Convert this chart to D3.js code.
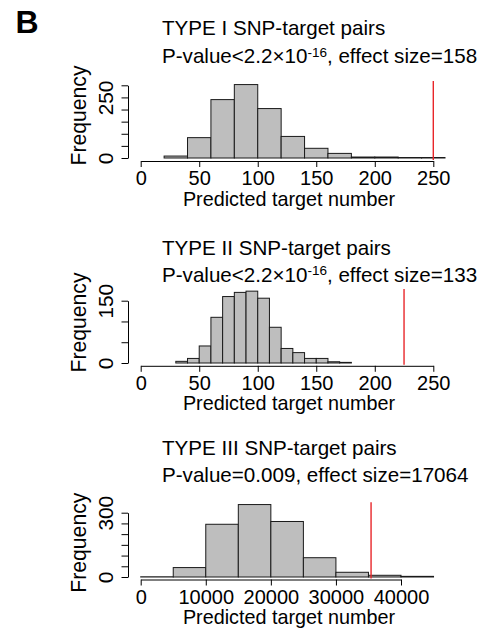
<!DOCTYPE html>
<html>
<head>
<meta charset="utf-8">
<script src="https://cdn.jsdelivr.net/npm/d3@7"></script>
<style>
  body { margin: 0; background: #fff; }
  svg { display: block; }
</style>
</head>
<body>
<div id="chart"></div>
<script>
// Histogram counts
const type1Breaks = [20, 40, 60, 80, 100, 120, 140, 160, 180, 200, 220, 240, 260];
const type1Counts = [8, 84, 241, 303, 204, 89, 40, 19, 4, 4, 2, 2];

const type2Breaks = [30, 40, 50, 60, 70, 80, 90, 100, 110, 120, 130, 140, 150, 160, 170, 180];
const type2Counts = [4, 11, 41, 110, 160, 170, 173, 156, 86, 35, 25, 11, 11, 3, 1.5];

const type3Breaks = [0, 5000, 10000, 15000, 20000, 25000, 30000, 35000, 40000, 45000];
const type3Counts = [1, 44, 246, 338, 259, 90, 22, 8, 3];

// observed value (red line)
const observed = [250, 225, 35400];

const titles = ["TYPE I SNP-target pairs", "TYPE II SNP-target pairs", "TYPE III SNP-target pairs"];
const statMain = ["P-value<2.2×10", "P-value<2.2×10", "P-value=0.009, effect size=17064"];
const statSup = ["-16", "-16", ""];
const statRest = [", effect size=158", ", effect size=133", ""];

const xTicks = [[0, 50, 100, 150, 200, 250], [0, 50, 100, 150, 200, 250], [0, 10000, 20000, 30000, 40000]];
const yTicks = [[0, 50, 100, 150, 200, 250, 300], [0, 50, 100, 150], [0, 50, 100, 150, 200, 250, 300]];
const yLabels = [[0, 250], [0, 150], [0, 300]];

const width = 486, height = 637;
const font = "'Liberation Sans', Arial, Helvetica, sans-serif";
const fs = 19.8;      // axis text
const fsTitle = 20.6; // panel titles

// layout of each panel (pixels)
const layout = [
  {titleY: 35, statY: 63.3, plotTop: 81, zeroY: 158, yTop: 85.3, axisY: 161, freqY: 115.5, xr: [140.7, 433.3]},
  {titleY: 255, statY: 281.7, plotTop: 289, zeroY: 363, yTop: 300.7, axisY: 365.8, freqY: 322.5, xr: [140.7, 433.3]},
  {titleY: 455, statY: 481.7, plotTop: 502.3, zeroY: 577, yTop: 512.7, axisY: 579.5, freqY: 542.7, xr: [140.7, 401]}
];
const yAxisX = 128;

const svg = d3.select("#chart").append("svg")
  .attr("width", width)
  .attr("height", height)
  .style("font-family", font);

svg.append("text")
  .attr("x", 15.5).attr("y", 33)
  .attr("font-size", 32).attr("font-weight", "bold")
  .text("B");

const series = [
  {breaks: type1Breaks, counts: type1Counts},
  {breaks: type2Breaks, counts: type2Counts},
  {breaks: type3Breaks, counts: type3Counts}
];

series.forEach((s, i) => {
  const L = layout[i];
  const xt = xTicks[i], yt = yTicks[i];
  const x = d3.scaleLinear().domain([xt[0], xt[xt.length - 1]]).range(L.xr);
  const y = d3.scaleLinear().domain([0, yt[yt.length - 1]]).range([L.zeroY, L.yTop]);
  const g = svg.append("g");

  // titles
  g.append("text").attr("x", 162).attr("y", L.titleY).attr("font-size", fsTitle).text(titles[i]);
  const st = g.append("text").attr("x", 162).attr("y", L.statY).attr("font-size", fsTitle);
  st.append("tspan").text(statMain[i]);
  if (statSup[i]) {
    st.append("tspan").attr("font-size", 13.5).attr("dy", -6.5).text(statSup[i]);
    st.append("tspan").attr("dy", 6.5).text(statRest[i]);
  }

  // bars
  const bins = s.counts.map((c, j) => ({x0: s.breaks[j], x1: s.breaks[j + 1], n: c}));
  g.append("g").selectAll("rect")
    .data(bins)
    .join("rect")
    .attr("x", d => x(d.x0))
    .attr("width", d => x(d.x1) - x(d.x0))
    .attr("y", d => y(d.n))
    .attr("height", d => L.zeroY - y(d.n))
    .attr("fill", "#bebebe")
    .attr("stroke", "#1a1a1a")
    .attr("stroke-width", 1);

  // red line for observed value
  g.append("line")
    .attr("x1", x(observed[i])).attr("x2", x(observed[i]))
    .attr("y1", L.plotTop).attr("y2", L.axisY - 1)
    .attr("stroke", "#e8262a").attr("stroke-width", 1.4);

  // x axis
  const xa = g.append("g")
    .attr("transform", `translate(0,${L.axisY})`)
    .call(d3.axisBottom(x).tickValues(xt).tickSizeInner(6).tickSizeOuter(0).tickPadding(3).tickFormat(d3.format("d")));
  xa.selectAll("text").attr("font-size", 20).attr("font-family", font).attr("fill", "#000").attr("dy", "0.75em");
  xa.selectAll("line, path").attr("stroke", "#000");

  // y axis
  const ya = g.append("g")
    .attr("transform", `translate(${yAxisX},0)`)
    .call(d3.axisLeft(y).tickValues(yt).tickSizeInner(6.5).tickSizeOuter(0)
      .tickFormat(d => yLabels[i].includes(d) ? d : ""));
  ya.selectAll("line, path").attr("stroke", "#000");
  ya.selectAll("text")
    .attr("font-size", 20.8).attr("font-family", font).attr("fill", "#000")
    .attr("text-anchor", "middle")
    .attr("x", 0).attr("dy", null)
    .attr("y", -15.3)
    .attr("transform", "rotate(-90)");

  // axis titles
  g.append("text")
    .attr("x", (140.7 + 433.3) / 2 + 2).attr("y", L.axisY + 44.5)
    .attr("text-anchor", "middle").attr("font-size", fs)
    .text("Predicted target number");
  g.append("text")
    .attr("transform", `translate(85.5,${L.freqY}) rotate(-90)`)
    .attr("text-anchor", "middle").attr("font-size", 21.2)
    .text("Frequency");
});
</script>
</body>
</html>
